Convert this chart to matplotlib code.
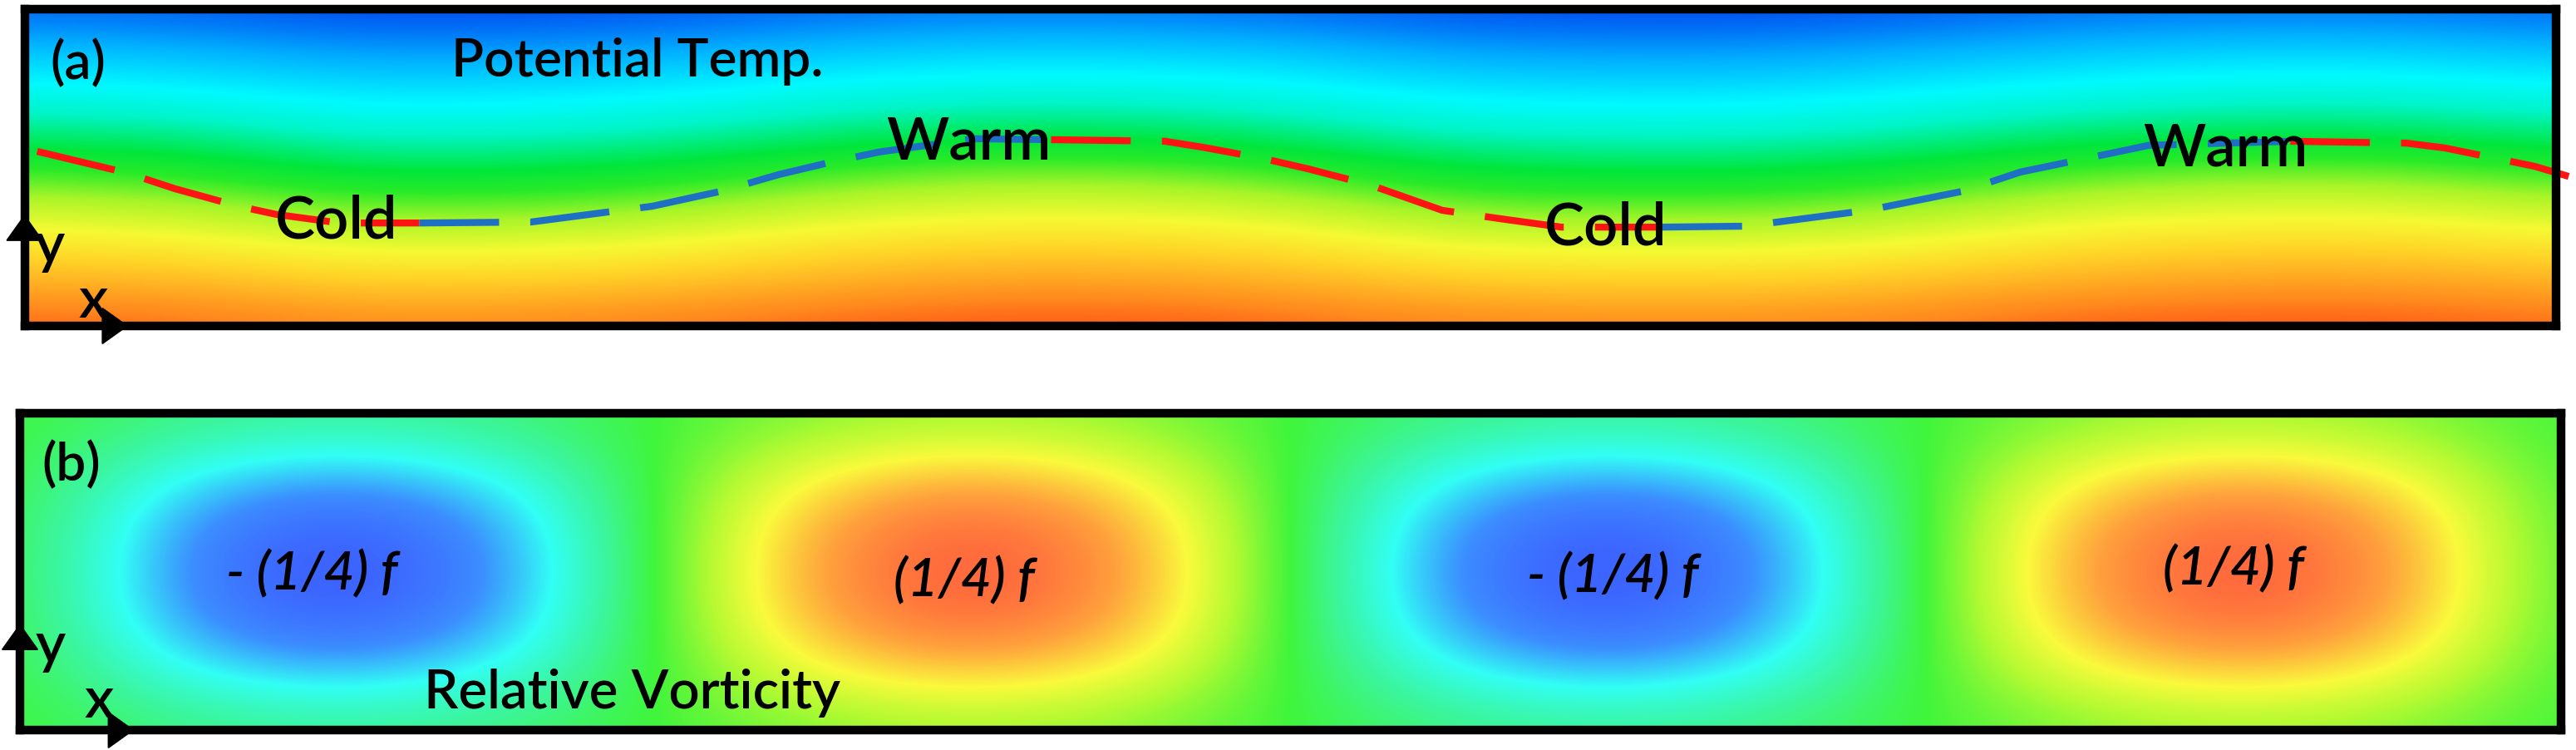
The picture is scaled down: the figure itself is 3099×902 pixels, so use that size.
import numpy as np
import matplotlib
matplotlib.use("Agg")
import matplotlib.pyplot as plt
from matplotlib.colors import LinearSegmentedColormap

plt.rcParams['font.family'] = ['Lato', 'DejaVu Sans']

# ---- panel (a): potential temperature, 0 = bottom (warm) .. 1 = top (cold)
# rows top -> bottom, columns every 1/8 wavelength over x = 0..2
theta_grid = [
    [0.96, 0.97, 1.00, 1.00, 0.99, 0.96, 0.94, 0.94, 0.96, 0.99, 1.00, 1.00, 0.98, 0.95, 0.94, 0.94, 0.96],
    [0.83, 0.85, 0.89, 0.89, 0.87, 0.83, 0.81, 0.81, 0.83, 0.88, 0.89, 0.89, 0.86, 0.83, 0.81, 0.81, 0.84],
    [0.72, 0.74, 0.78, 0.78, 0.76, 0.72, 0.70, 0.70, 0.72, 0.77, 0.78, 0.78, 0.75, 0.72, 0.70, 0.70, 0.73],
    [0.62, 0.63, 0.68, 0.68, 0.66, 0.62, 0.59, 0.59, 0.62, 0.67, 0.68, 0.68, 0.65, 0.61, 0.59, 0.59, 0.62],
    [0.50, 0.52, 0.57, 0.57, 0.55, 0.50, 0.47, 0.47, 0.50, 0.56, 0.57, 0.57, 0.54, 0.49, 0.47, 0.47, 0.51],
    [0.39, 0.41, 0.46, 0.46, 0.44, 0.39, 0.36, 0.36, 0.39, 0.45, 0.46, 0.46, 0.43, 0.38, 0.36, 0.36, 0.40],
    [0.28, 0.30, 0.35, 0.35, 0.33, 0.28, 0.25, 0.25, 0.28, 0.34, 0.35, 0.35, 0.32, 0.27, 0.25, 0.25, 0.29],
    [0.16, 0.17, 0.22, 0.22, 0.20, 0.16, 0.13, 0.13, 0.16, 0.21, 0.22, 0.22, 0.19, 0.15, 0.13, 0.13, 0.16],
    [0.04, 0.05, 0.09, 0.09, 0.07, 0.04, 0.02, 0.02, 0.04, 0.08, 0.09, 0.09, 0.07, 0.03, 0.02, 0.02, 0.05],
]

# isentrope (dashed front)
front_x = [0.01, 0.081, 0.119, 0.169, 0.199, 0.249, 0.312, 0.400, 0.496, 0.550, 0.596, 0.637,
           0.675, 0.750, 0.811, 0.901, 0.931, 0.977, 1.014, 1.064, 1.120, 1.165, 1.214, 1.294,
           1.360, 1.456, 1.531, 1.577, 1.653, 1.678, 1.790, 1.882, 1.912, 1.983, 2.010]
front_y = [0.551, 0.483, 0.433, 0.378, 0.352, 0.325, 0.325, 0.328, 0.378, 0.425, 0.478, 0.517,
           0.549, 0.591, 0.588, 0.583, 0.564, 0.530, 0.496, 0.444, 0.365, 0.339, 0.312, 0.312,
           0.315, 0.365, 0.425, 0.486, 0.549, 0.570, 0.583, 0.577, 0.562, 0.504, 0.472]
# index ranges: red = descending (warm -> cold), blue = ascending
front_parts = [(0, 6, "red"), (6, 14, "blue"), (14, 23, "red"), (23, 30, "blue"), (30, 34, "red")]

# ---- panel (b): relative vorticity in units of f/4
vort_x_profile = [0, -0.74, -1, -0.74, 0, 0.74, 1, 0.74, 0, -0.74, -1, -0.74, 0, 0.74, 1, 0.74, 0]
vort_y_profile = [0.22, 0.46, 0.76, 0.95, 1.0, 0.95, 0.76, 0.46, 0.22]

labels_a = [("Cold", 0.198, 0.276), ("Warm", 0.681, 0.525), ("Cold", 1.201, 0.255), ("Warm", 1.674, 0.504)]
labels_b = [("- (1/4) f", 0.230, 0.493), ("(1/4) f", 0.743, 0.472),
            ("- (1/4) f", 1.254, 0.483), ("(1/4) f", 1.742, 0.507)]

theta_cmap = LinearSegmentedColormap.from_list("theta", [
    (0.00, "#ff4614"), (0.10, "#ff8c1e"), (0.25, "#ffd728"), (0.33, "#f5fa32"),
    (0.42, "#aaf528"), (0.50, "#28eb28"), (0.56, "#00e63c"), (0.66, "#00f5c8"),
    (0.74, "#00faff"), (0.86, "#00afff"), (1.00, "#0046f0")])
vort_cmap = LinearSegmentedColormap.from_list("vort", [
    (0.00, "#3c50ff"), (0.15, "#3c8cff"), (0.275, "#32fff5"), (0.40, "#3cf596"),
    (0.50, "#40f53c"), (0.625, "#b4fa32"), (0.725, "#fafa3c"), (0.85, "#ffa03c"),
    (1.00, "#ff503c")])

W, H = 3099, 902
fig = plt.figure(figsize=(W / 100, H / 100), dpi=100)
ax_a = fig.add_axes([29.5 / W, 1 - 392 / H, 3045.5 / W, 381 / H])
ax_b = fig.add_axes([24 / W, 1 - 878 / H, 3057 / W, 381 / H])

half = 0.0625
ext = (-half, 2 + half, -half, 1 + half)
ax_a.imshow(np.array(theta_grid), cmap=theta_cmap, vmin=0, vmax=1, extent=ext,
            aspect="auto", interpolation="bicubic", origin="upper")
vort = np.outer(vort_y_profile, vort_x_profile)
ax_b.imshow(vort, cmap=vort_cmap, vmin=-1, vmax=1, extent=ext,
            aspect="auto", interpolation="bicubic", origin="upper")

line_colors = {"red": "#ff1414", "blue": "#1f6fc4"}
for i0, i1, c in front_parts:
    ax_a.plot(front_x[i0:i1 + 1], front_y[i0:i1 + 1], color=line_colors[c], lw=6,
              dashes=(11.5, 4.5), solid_capstyle="butt", dash_capstyle="butt", clip_on=False, zorder=3)

for ax in (ax_a, ax_b):
    ax.set_xlim(0, 2)
    ax.set_ylim(0, 1)
    ax.set_xticks([]); ax.set_yticks([])
    for sp in ax.spines.values():
        sp.set_linewidth(7.5)
        sp.set_color("black")
        sp.set_zorder(5)

txt = dict(fontweight="semibold", zorder=6)
# panel text
ax_a.text(0.020, 0.827, "(a)", fontsize=46, va="center", ha="left", **txt)
ax_a.text(0.337, 0.787, "Potential Temp.", fontsize=46, va="baseline", ha="left", **txt)
for s, x, y in labels_a:
    ax_a.text(x, y, s, fontsize=52, va="baseline", ha="left", **txt)

ax_b.text(0.017, 0.837, "(b)", fontsize=46, va="center", ha="left", **txt)
ax_b.text(0.318, 0.068, "Relative Vorticity", fontsize=47, va="baseline", ha="left", **txt)
for s, x, y in labels_b:
    ax_b.text(x, y, s, fontsize=46, style="italic", va="center", ha="center", **txt)

# coordinate arrows
arrow_kw = dict(arrowstyle="-|>,head_length=0.7,head_width=0.5", color="black", lw=1.5,
                shrinkA=0, shrinkB=0, mutation_scale=30)
for ax, ytip, xtip, ylab, xlab in [(ax_a, 0.352, 0.082, (0.008, 0.199), (0.043, 0.026)),
                                   (ax_b, 0.336, 0.090, (0.012, 0.213), (0.051, 0.039))]:
    ax.annotate("", xy=(0, ytip), xytext=(0, 0), arrowprops=arrow_kw,
                annotation_clip=False, zorder=7)
    ax.annotate("", xy=(xtip, 0), xytext=(0, 0), arrowprops=arrow_kw,
                annotation_clip=False, zorder=7)
    ax.text(ylab[0], ylab[1], "y", fontsize=50, va="baseline", ha="left", **txt)
    ax.text(xlab[0], xlab[1], "x", fontsize=50, va="baseline", ha="left", **txt)

fig.savefig("out.png", dpi=100)
